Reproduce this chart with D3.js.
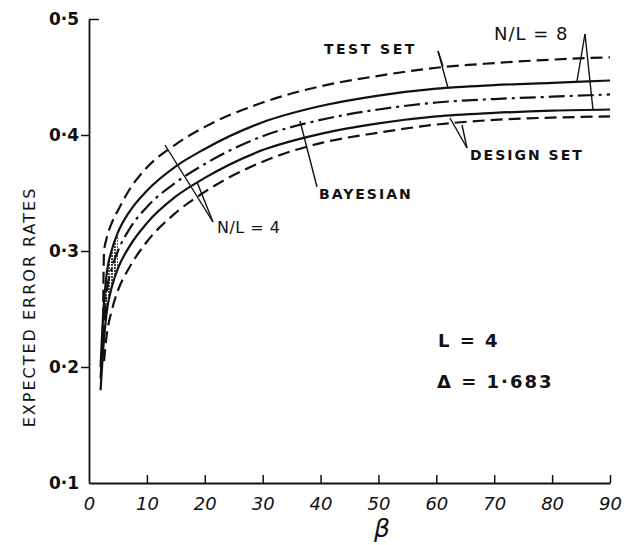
<!DOCTYPE html>
<html>
<head>
<meta charset="utf-8">
<script src="https://cdn.jsdelivr.net/npm/d3@7"></script>
<style>
  body { margin: 0; background: #fff; }
  text { font-family: "DejaVu Sans", sans-serif; fill: #111; }
</style>
</head>
<body>
<div id="chart"></div>
<script>
// [beta, expected error rate]
var testN4 = [[2.4,0.225],[2.6,0.30],[3,0.31],[4,0.325],[5,0.335],[7,0.353],[10,0.372],[15,0.392],[20,0.407],[30,0.428],[40,0.442],[50,0.451],[60,0.458],[70,0.462],[80,0.465],[90,0.467]];
var testN8 = [[2,0.20],[2.5,0.25],[3,0.278],[4,0.302],[5,0.316],[7,0.334],[10,0.352],[15,0.373],[20,0.388],[30,0.411],[40,0.425],[50,0.434],[60,0.44],[70,0.443],[80,0.445],[90,0.447]];
var bayes  = [[2,0.19],[2.5,0.232],[3,0.262],[4,0.286],[5,0.3],[7,0.319],[10,0.338],[15,0.359],[20,0.375],[30,0.399],[40,0.413],[50,0.422],[60,0.428],[70,0.431],[80,0.433],[90,0.435]];
var designN8 = [[2,0.18],[2.5,0.218],[3,0.245],[4,0.27],[5,0.285],[7,0.304],[10,0.324],[15,0.347],[20,0.363],[30,0.387],[40,0.401],[50,0.41],[60,0.416],[70,0.419],[80,0.421],[90,0.422]];
var designN4 = [[2.6,0.205],[3,0.225],[4,0.25],[5,0.266],[7,0.286],[10,0.308],[15,0.333],[20,0.351],[30,0.377],[40,0.393],[50,0.402],[60,0.409],[70,0.413],[80,0.415],[90,0.416]];

var xTicks = [0,10,20,30,40,50,60,70,80,90];
var yTicks = [0.1,0.2,0.3,0.4,0.5];

var width = 641, height = 545;
var svg = d3.select("#chart").append("svg")
    .attr("width", width)
    .attr("height", height);

var x = d3.scaleLinear().domain([0, 90]).range([89, 610]);
var y = d3.scaleLinear().domain([0.1, 0.5]).range([483, 19]);

// speckled fill between the two solid curves near the start
var defs = svg.append("defs");
var pat = defs.append("pattern").attr("id", "speck").attr("patternUnits", "userSpaceOnUse")
  .attr("width", 3).attr("height", 3);
pat.append("rect").attr("width", 2).attr("height", 2).attr("fill", "#333");

var shade = d3.area()
  .x(function(d){ return x(d[0]); })
  .y0(function(d, i){ return y(designN8[i][1]); })
  .y1(function(d){ return y(d[1]); })
  .curve(d3.curveMonotoneX);
svg.append("path").attr("d", shade(testN8.slice(0, 5))).attr("fill", "url(#speck)").attr("opacity", 0.9);

// axes
var xAxis = d3.axisBottom(x).tickValues(xTicks).tickSizeInner(-8).tickSizeOuter(0).tickPadding(14)
    .tickFormat(function(d){ return d; });
var yAxis = d3.axisLeft(y).tickValues(yTicks).tickSizeInner(8).tickSizeOuter(0).tickPadding(2)
    .tickFormat(function(d){ return d3.format(".1f")(d).replace(".", "\u00b7"); });

var gx = svg.append("g").attr("transform", "translate(0," + y(0.1) + ")").call(xAxis);
var gy = svg.append("g").attr("transform", "translate(" + x(0) + ",0)").call(yAxis);

[gx, gy].forEach(function(g){
  g.select(".domain").attr("stroke", "#111").attr("stroke-width", 1.8);
  g.selectAll(".tick line").attr("stroke", "#111").attr("stroke-width", 1.5);
  g.selectAll(".tick text").style("font-size", "17px").style("font-weight", "bold").attr("fill", "#111");
});
gx.selectAll(".tick").filter(function(d){ return d === 0; }).select("line").remove();
gx.selectAll(".tick text").style("font-style", "italic").style("font-weight", "normal").style("font-size", "18px");
// top tick on the y axis turns to the right
gy.selectAll(".tick").filter(function(d){ return d === 0.5; }).select("line").attr("x2", 10);
gy.selectAll(".tick").filter(function(d){ return d === 0.1; }).select("line").remove();

svg.append("text").attr("x", 382).attr("y", 537).attr("text-anchor", "middle")
  .style("font-size", "25px").style("font-style", "italic").text("\u03b2");

svg.append("text").attr("transform", "translate(35,307) rotate(-90)").attr("text-anchor", "middle")
  .style("font-size", "16px").style("letter-spacing", "2px").text("EXPECTED ERROR RATES");

// curves
var line = d3.line()
  .x(function(d){ return x(d[0]); })
  .y(function(d){ return y(d[1]); })
  .curve(d3.curveMonotoneX);

var series = [
  {data: testN4, dash: "12,6"},
  {data: testN8, dash: null},
  {data: bayes, dash: "16,5,3,5"},
  {data: designN8, dash: null},
  {data: designN4, dash: "12,6"}
];

svg.selectAll(".curve").data(series).enter().append("path")
  .attr("class", "curve")
  .attr("d", function(d){ return line(d.data); })
  .attr("fill", "none")
  .attr("stroke", "#111")
  .attr("stroke-width", 2.2)
  .attr("stroke-dasharray", function(d){ return d.dash; });

// annotations
function lbl(tx, ty, t, size, bold, sp) {
  svg.append("text").attr("x", tx).attr("y", ty).style("font-size", (size || 14) + "px")
    .style("font-weight", bold ? "bold" : "normal")
    .style("letter-spacing", (sp == null ? 2 : sp) + "px").text(t);
}
function lead(x1, y1, x2, y2) {
  svg.append("line").attr("x1", x1).attr("y1", y1).attr("x2", x2).attr("y2", y2)
    .attr("stroke", "#111").attr("stroke-width", 1.4);
}

lbl(324, 54, "TEST SET", 14, true, 2.5);
lead(438, 51, 443, 66);
lead(438, 51, 448, 88);

lbl(494, 40, "N/L = 8", 18, false, 1);
lead(585, 34, 577, 81);
lead(585, 34, 593, 110);

lbl(470, 160, "DESIGN SET", 14, true, 2);
lead(467, 148, 450, 118);
lead(467, 148, 462, 125);

lbl(319, 199, "BAYESIAN", 14, true, 2);
lead(317, 187, 300, 121);

lbl(217, 233, "N/L = 4", 16, false, 0.5);
lead(213, 222, 165, 145);
lead(213, 222, 197, 182);

lbl(438, 347, "L = 4", 18, true, 2);
lbl(437, 388, "\u0394  =  1\u00b7683", 18, true, 2);
</script>
</body>
</html>
